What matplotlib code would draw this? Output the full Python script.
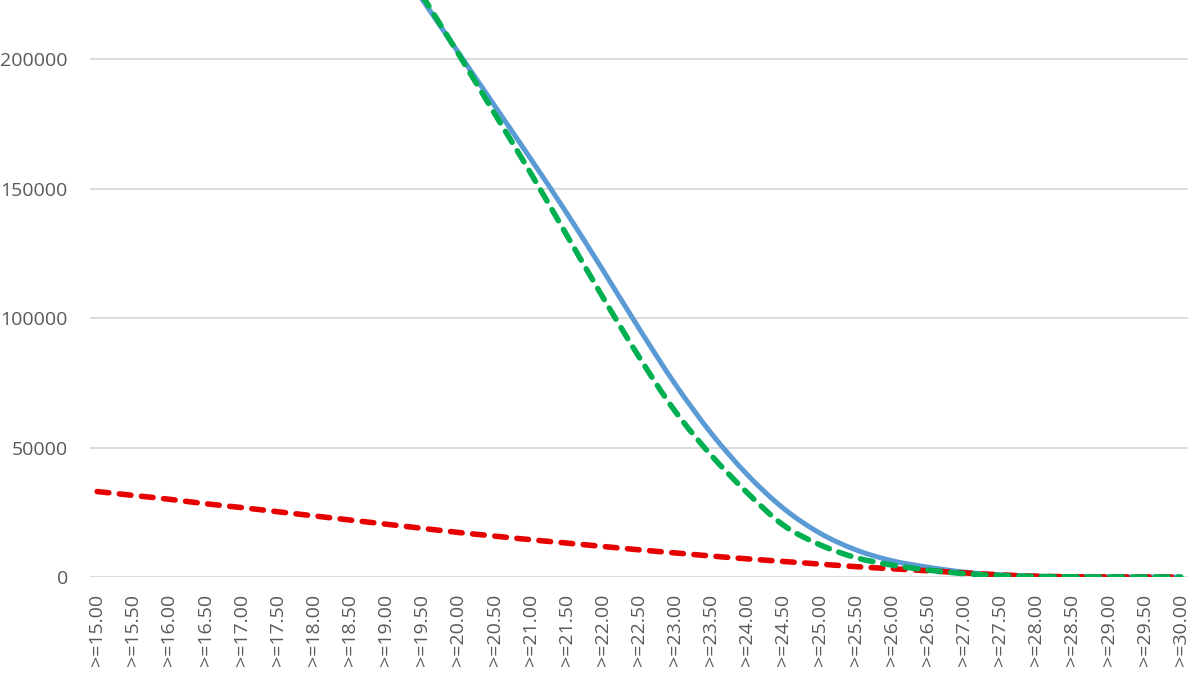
import matplotlib
matplotlib.use("Agg")
import matplotlib.pyplot as plt
from matplotlib.path import Path
from matplotlib.patches import PathPatch
import numpy as np

plt.rcParams['font.family'] = ['Open Sans', 'DejaVu Sans']

categories = [f">={v:.2f}" for v in np.arange(15.0, 30.01, 0.5)]

# Series values (None = above visible range)
blue_vals = [None, None, None, None, None, None, None, None, 243500,
             223000, 202500, 182000, 161500, 140500, 118500, 96000, 74500,
             55500, 39500, 26500, 17000, 10500, 6300, 3800, 1900, 850,
             350, 130, 50, 20, 0]
green_vals = [None, None, None, None, None, None, None, None, 247000,
              224500, 202000, 179000, 156000, 132000, 108000, 85000, 64000,
              47000, 32500, 20000, 12500, 7500, 4600, 2700, 1300, 550,
              200, 80, 30, 10, 0]
red_vals = [33000, 31500, 30000, 28300, 26800, 25200, 23600, 22000, 20400,
            18800, 17200, 15800, 14400, 13100, 11800, 10500, 9300, 8100,
            7000, 6000, 5000, 4000, 3200, 2400, 1600, 800, 300, 100, 30, 10, 0]

y_ticks = [0, 50000, 100000, 150000, 200000]


def smooth_path(vals):
    """Excel-like smoothed line: cubic Bezier through the data points."""
    pts = [(i, v) for i, v in enumerate(vals) if v is not None]
    p = np.array(pts, dtype=float)
    n = len(p)
    verts = [tuple(p[0])]
    codes = [Path.MOVETO]
    for k in range(n - 1):
        p0 = p[k - 1] if k > 0 else p[k]
        p1 = p[k]
        p2 = p[k + 1]
        p3 = p[k + 2] if k + 2 < n else p[k + 1]
        c1 = p1 + (p2 - p0) / 6.0
        c2 = p2 - (p3 - p1) / 6.0
        verts += [tuple(c1), tuple(c2), tuple(p2)]
        codes += [Path.CURVE4] * 3
    return Path(verts, codes)


fig = plt.figure(figsize=(12, 6.75), dpi=100)
ax = fig.add_axes([90/1200, (675-577)/675, (1188-90)/1200, 577/675])

styles = [
    (blue_vals, dict(edgecolor='#5b9bd5', lw=3.6, capstyle='round', zorder=3)),
    (red_vals, dict(edgecolor='#e60000', lw=4.0, linestyle=(0, (2.1, 1.9)),
                    capstyle='round', zorder=4)),
    (green_vals, dict(edgecolor='#00b050', lw=4.0, linestyle=(0, (2.3, 1.8)),
                      capstyle='round', zorder=5)),
]
for vals, kw in styles:
    ax.add_patch(PathPatch(smooth_path(vals), fill=False, **kw))

x = np.arange(len(categories))
ax.set_xlim(-0.2, 30.2)
ax.set_ylim(0, 222800)
ax.set_yticks(y_ticks)
ax.set_yticklabels([str(v) for v in y_ticks])
ax.set_xticks(x)
ax.set_xticklabels(categories, rotation=90, va='top', ha='center')

ax.grid(axis='y', color='#d9d9d9', lw=1.3)
ax.set_axisbelow(True)
for s in ax.spines.values():
    s.set_visible(False)
ax.tick_params(axis='both', length=0, labelsize=14, colors='#595959')
ax.tick_params(axis='y', pad=16)
ax.tick_params(axis='x', pad=12)

fig.savefig('out.png', dpi=100)
